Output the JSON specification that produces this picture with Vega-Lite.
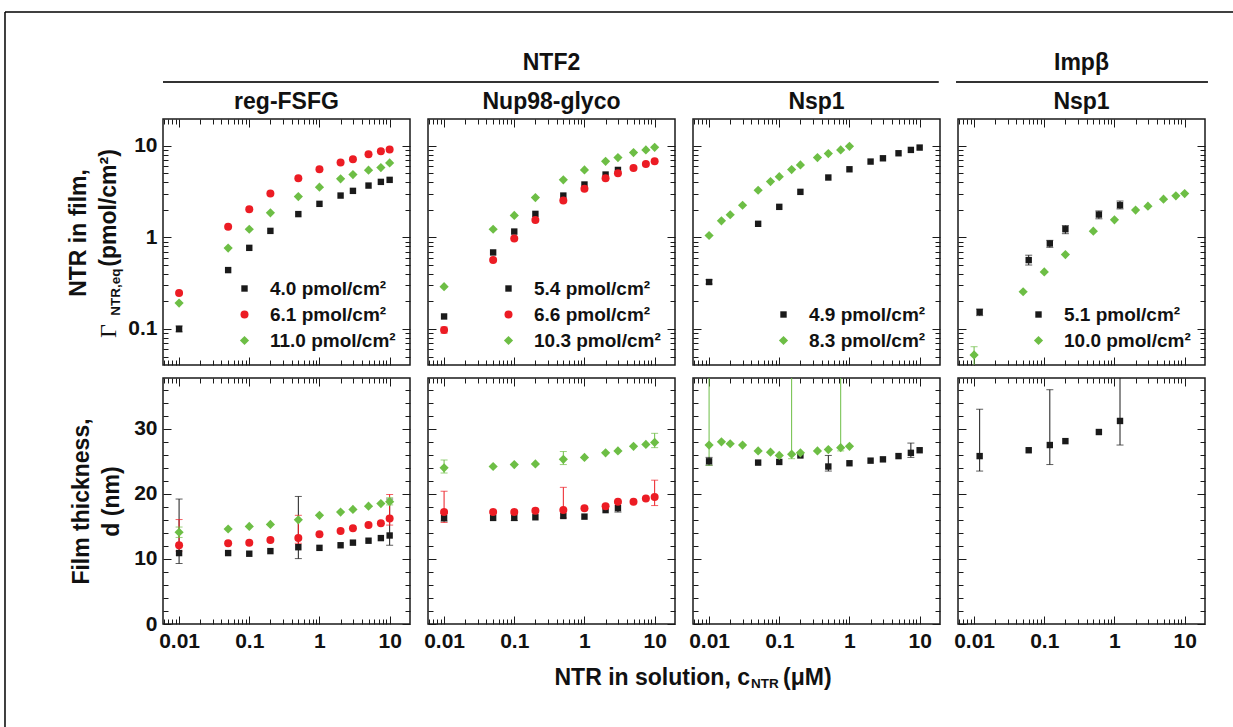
{
"$schema":"https://vega.github.io/schema/vega-lite/v6.json",
"background":"white",
"padding":{"left":4,"top":11,"right":5,"bottom":5},
"columns":4,
"bounds":"flush",
"spacing":{"row":13,"column":18},
"resolve":{"scale":{"color":"independent","shape":"independent"},"legend":{"color":"independent","shape":"independent"}},
"config":{
 "font":"Liberation Sans",
 "view":{"stroke":"#1a1a1a","strokeWidth":1.5},
 "axis":{"domain":false,"grid":false,"tickColor":"#1a1a1a","tickWidth":1,"labelFont":"Liberation Sans","labelFontSize":21,"labelFontWeight":"bold","labelColor":"#111","labelFlush":false,"labelOverlap":false,"labelBound":false,"titleFont":"Liberation Sans","titleFontSize":23,"titleFontWeight":"bold","titleColor":"#111"},
 "title":{"font":"Liberation Sans","fontSize":23,"fontWeight":"bold","color":"#111","offset":5,"anchor":"middle"},
 "legend":{"orient":"bottom-right","offset":14,"labelFont":"Liberation Sans","labelFontSize":19,"labelFontWeight":"bold","labelColor":"#111","symbolSize":64,"rowPadding":6,"labelOffset":16,"padding":0,"symbolStrokeWidth":0}
},
"datasets":{"d":[
{"p":1,"r":"t","s":"4.0","x":0.01,"y":0.1,"lo":0.093,"hi":0.108},
{"p":1,"r":"t","s":"4.0","x":0.05,"y":0.44},
{"p":1,"r":"t","s":"4.0","x":0.1,"y":0.77},
{"p":1,"r":"t","s":"4.0","x":0.2,"y":1.18},
{"p":1,"r":"t","s":"4.0","x":0.5,"y":1.8},
{"p":1,"r":"t","s":"4.0","x":1,"y":2.33},
{"p":1,"r":"t","s":"4.0","x":2,"y":2.87},
{"p":1,"r":"t","s":"4.0","x":3,"y":3.23},
{"p":1,"r":"t","s":"4.0","x":5,"y":3.69},
{"p":1,"r":"t","s":"4.0","x":7.5,"y":4.05},
{"p":1,"r":"t","s":"4.0","x":10,"y":4.26},
{"p":1,"r":"t","s":"6.1","x":0.01,"y":0.247},
{"p":1,"r":"t","s":"6.1","x":0.05,"y":1.31},
{"p":1,"r":"t","s":"6.1","x":0.1,"y":2.04},
{"p":1,"r":"t","s":"6.1","x":0.2,"y":3.02},
{"p":1,"r":"t","s":"6.1","x":0.5,"y":4.44},
{"p":1,"r":"t","s":"6.1","x":1,"y":5.56},
{"p":1,"r":"t","s":"6.1","x":2,"y":6.58},
{"p":1,"r":"t","s":"6.1","x":3,"y":7.16},
{"p":1,"r":"t","s":"6.1","x":5,"y":8.11},
{"p":1,"r":"t","s":"6.1","x":7.5,"y":8.75},
{"p":1,"r":"t","s":"6.1","x":10,"y":9.12},
{"p":1,"r":"t","s":"11.0","x":0.01,"y":0.192},
{"p":1,"r":"t","s":"11.0","x":0.05,"y":0.765},
{"p":1,"r":"t","s":"11.0","x":0.1,"y":1.23},
{"p":1,"r":"t","s":"11.0","x":0.2,"y":1.86},
{"p":1,"r":"t","s":"11.0","x":0.5,"y":2.8},
{"p":1,"r":"t","s":"11.0","x":1,"y":3.54},
{"p":1,"r":"t","s":"11.0","x":2,"y":4.37},
{"p":1,"r":"t","s":"11.0","x":3,"y":4.87},
{"p":1,"r":"t","s":"11.0","x":5,"y":5.43},
{"p":1,"r":"t","s":"11.0","x":7.5,"y":5.8},
{"p":1,"r":"t","s":"11.0","x":10,"y":6.53},
{"p":1,"r":"b","s":"4.0","x":0.01,"y":10.9,"lo":9.3,"hi":19.2},
{"p":1,"r":"b","s":"4.0","x":0.05,"y":10.9},
{"p":1,"r":"b","s":"4.0","x":0.1,"y":10.8},
{"p":1,"r":"b","s":"4.0","x":0.2,"y":11.2},
{"p":1,"r":"b","s":"4.0","x":0.5,"y":11.8,"lo":10.05,"hi":19.6},
{"p":1,"r":"b","s":"4.0","x":1,"y":11.7},
{"p":1,"r":"b","s":"4.0","x":2,"y":12.1},
{"p":1,"r":"b","s":"4.0","x":3,"y":12.5},
{"p":1,"r":"b","s":"4.0","x":5,"y":12.8},
{"p":1,"r":"b","s":"4.0","x":7.5,"y":13.2},
{"p":1,"r":"b","s":"4.0","x":10,"y":13.6,"lo":12.1,"hi":19.2},
{"p":1,"r":"b","s":"6.1","x":0.01,"y":12.1,"lo":11.2,"hi":16.05},
{"p":1,"r":"b","s":"6.1","x":0.05,"y":12.4},
{"p":1,"r":"b","s":"6.1","x":0.1,"y":12.5},
{"p":1,"r":"b","s":"6.1","x":0.2,"y":12.9},
{"p":1,"r":"b","s":"6.1","x":0.5,"y":13.2,"lo":12.4,"hi":16.7},
{"p":1,"r":"b","s":"6.1","x":1,"y":13.8},
{"p":1,"r":"b","s":"6.1","x":2,"y":14.3},
{"p":1,"r":"b","s":"6.1","x":3,"y":14.7},
{"p":1,"r":"b","s":"6.1","x":5,"y":15.2},
{"p":1,"r":"b","s":"6.1","x":7.5,"y":15.5},
{"p":1,"r":"b","s":"6.1","x":10,"y":16.2,"lo":15.2,"hi":19.9},
{"p":1,"r":"b","s":"11.0","x":0.01,"y":14.1,"lo":13.3,"hi":14.9},
{"p":1,"r":"b","s":"11.0","x":0.05,"y":14.6},
{"p":1,"r":"b","s":"11.0","x":0.1,"y":15.0},
{"p":1,"r":"b","s":"11.0","x":0.2,"y":15.3},
{"p":1,"r":"b","s":"11.0","x":0.5,"y":16.0},
{"p":1,"r":"b","s":"11.0","x":1,"y":16.7},
{"p":1,"r":"b","s":"11.0","x":2,"y":17.2},
{"p":1,"r":"b","s":"11.0","x":3,"y":17.6},
{"p":1,"r":"b","s":"11.0","x":5,"y":18.1},
{"p":1,"r":"b","s":"11.0","x":7.5,"y":18.5},
{"p":1,"r":"b","s":"11.0","x":10,"y":18.8,"lo":18.3,"hi":19.4},
{"p":2,"r":"t","s":"5.4","x":0.01,"y":0.137},
{"p":2,"r":"t","s":"5.4","x":0.05,"y":0.686},
{"p":2,"r":"t","s":"5.4","x":0.1,"y":1.16},
{"p":2,"r":"t","s":"5.4","x":0.2,"y":1.81},
{"p":2,"r":"t","s":"5.4","x":0.5,"y":2.87},
{"p":2,"r":"t","s":"5.4","x":1,"y":3.79},
{"p":2,"r":"t","s":"5.4","x":2,"y":4.87},
{"p":2,"r":"t","s":"5.4","x":3,"y":5.47},
{"p":2,"r":"t","s":"6.6","x":0.01,"y":0.0975,"lo":0.09,"hi":0.105},
{"p":2,"r":"t","s":"6.6","x":0.05,"y":0.566},
{"p":2,"r":"t","s":"6.6","x":0.1,"y":0.975},
{"p":2,"r":"t","s":"6.6","x":0.2,"y":1.55},
{"p":2,"r":"t","s":"6.6","x":0.5,"y":2.54},
{"p":2,"r":"t","s":"6.6","x":1,"y":3.4},
{"p":2,"r":"t","s":"6.6","x":2,"y":4.44},
{"p":2,"r":"t","s":"6.6","x":3,"y":5.03},
{"p":2,"r":"t","s":"6.6","x":5,"y":5.75},
{"p":2,"r":"t","s":"6.6","x":7.5,"y":6.36},
{"p":2,"r":"t","s":"6.6","x":10,"y":6.8},
{"p":2,"r":"t","s":"10.3","x":0.01,"y":0.29},
{"p":2,"r":"t","s":"10.3","x":0.05,"y":1.23},
{"p":2,"r":"t","s":"10.3","x":0.1,"y":1.74},
{"p":2,"r":"t","s":"10.3","x":0.2,"y":2.73},
{"p":2,"r":"t","s":"10.3","x":0.5,"y":4.26},
{"p":2,"r":"t","s":"10.3","x":1,"y":5.47},
{"p":2,"r":"t","s":"10.3","x":2,"y":6.8},
{"p":2,"r":"t","s":"10.3","x":3,"y":7.46},
{"p":2,"r":"t","s":"10.3","x":5,"y":8.46},
{"p":2,"r":"t","s":"10.3","x":7.5,"y":9.05},
{"p":2,"r":"t","s":"10.3","x":10,"y":9.67},
{"p":2,"r":"b","s":"5.4","x":0.01,"y":16.3,"lo":15.8,"hi":17.0},
{"p":2,"r":"b","s":"5.4","x":0.05,"y":16.3},
{"p":2,"r":"b","s":"5.4","x":0.1,"y":16.3,"lo":15.9,"hi":16.9},
{"p":2,"r":"b","s":"5.4","x":0.2,"y":16.4},
{"p":2,"r":"b","s":"5.4","x":0.5,"y":16.6},
{"p":2,"r":"b","s":"5.4","x":1,"y":16.5},
{"p":2,"r":"b","s":"5.4","x":2,"y":17.5},
{"p":2,"r":"b","s":"5.4","x":3,"y":17.8,"lo":17.2,"hi":18.6},
{"p":2,"r":"b","s":"6.6","x":0.01,"y":17.2,"lo":15.6,"hi":20.4},
{"p":2,"r":"b","s":"6.6","x":0.05,"y":17.2},
{"p":2,"r":"b","s":"6.6","x":0.1,"y":17.2},
{"p":2,"r":"b","s":"6.6","x":0.2,"y":17.4},
{"p":2,"r":"b","s":"6.6","x":0.5,"y":17.5,"lo":16.3,"hi":21.0},
{"p":2,"r":"b","s":"6.6","x":1,"y":17.8},
{"p":2,"r":"b","s":"6.6","x":2,"y":18.1},
{"p":2,"r":"b","s":"6.6","x":3,"y":18.8},
{"p":2,"r":"b","s":"6.6","x":5,"y":18.8},
{"p":2,"r":"b","s":"6.6","x":7.5,"y":19.3},
{"p":2,"r":"b","s":"6.6","x":10,"y":19.5,"lo":18.2,"hi":22.1},
{"p":2,"r":"b","s":"10.3","x":0.01,"y":24.0,"lo":23.2,"hi":25.2},
{"p":2,"r":"b","s":"10.3","x":0.05,"y":24.2},
{"p":2,"r":"b","s":"10.3","x":0.1,"y":24.5},
{"p":2,"r":"b","s":"10.3","x":0.2,"y":24.6},
{"p":2,"r":"b","s":"10.3","x":0.5,"y":25.3,"lo":24.5,"hi":26.5},
{"p":2,"r":"b","s":"10.3","x":1,"y":25.6},
{"p":2,"r":"b","s":"10.3","x":2,"y":26.3},
{"p":2,"r":"b","s":"10.3","x":3,"y":26.6},
{"p":2,"r":"b","s":"10.3","x":5,"y":27.3},
{"p":2,"r":"b","s":"10.3","x":7.5,"y":27.6},
{"p":2,"r":"b","s":"10.3","x":10,"y":27.9,"lo":27.1,"hi":29.3},
{"p":3,"r":"t","s":"4.9","x":0.01,"y":0.326,"lo":0.31,"hi":0.345},
{"p":3,"r":"t","s":"4.9","x":0.05,"y":1.41},
{"p":3,"r":"t","s":"4.9","x":0.1,"y":2.16},
{"p":3,"r":"t","s":"4.9","x":0.2,"y":3.15},
{"p":3,"r":"t","s":"4.9","x":0.5,"y":4.52},
{"p":3,"r":"t","s":"4.9","x":1,"y":5.56},
{"p":3,"r":"t","s":"4.9","x":2,"y":6.75},
{"p":3,"r":"t","s":"4.9","x":3,"y":7.33},
{"p":3,"r":"t","s":"4.9","x":5,"y":8.32},
{"p":3,"r":"t","s":"4.9","x":7.5,"y":9.05},
{"p":3,"r":"t","s":"4.9","x":10,"y":9.6},
{"p":3,"r":"t","s":"8.3","x":0.01,"y":1.05},
{"p":3,"r":"t","s":"8.3","x":0.015,"y":1.52},
{"p":3,"r":"t","s":"8.3","x":0.02,"y":1.77},
{"p":3,"r":"t","s":"8.3","x":0.03,"y":2.25},
{"p":3,"r":"t","s":"8.3","x":0.05,"y":3.28},
{"p":3,"r":"t","s":"8.3","x":0.075,"y":4.08},
{"p":3,"r":"t","s":"8.3","x":0.1,"y":4.62},
{"p":3,"r":"t","s":"8.3","x":0.15,"y":5.52},
{"p":3,"r":"t","s":"8.3","x":0.2,"y":6.21},
{"p":3,"r":"t","s":"8.3","x":0.35,"y":7.46},
{"p":3,"r":"t","s":"8.3","x":0.5,"y":8.25},
{"p":3,"r":"t","s":"8.3","x":0.75,"y":9.05},
{"p":3,"r":"t","s":"8.3","x":1,"y":9.9},
{"p":3,"r":"b","s":"4.9","x":0.01,"y":25.0,"lo":24.4,"hi":25.6},
{"p":3,"r":"b","s":"4.9","x":0.05,"y":24.8},
{"p":3,"r":"b","s":"4.9","x":0.1,"y":24.9},
{"p":3,"r":"b","s":"4.9","x":0.2,"y":25.9},
{"p":3,"r":"b","s":"4.9","x":0.5,"y":24.2,"lo":23.5,"hi":25.9},
{"p":3,"r":"b","s":"4.9","x":1,"y":24.7},
{"p":3,"r":"b","s":"4.9","x":2,"y":25.1},
{"p":3,"r":"b","s":"4.9","x":3,"y":25.3},
{"p":3,"r":"b","s":"4.9","x":5,"y":25.8},
{"p":3,"r":"b","s":"4.9","x":7.5,"y":26.3,"lo":25.6,"hi":27.8},
{"p":3,"r":"b","s":"4.9","x":10,"y":26.7},
{"p":3,"r":"b","s":"8.3","x":0.01,"y":27.5,"lo":24.4,"hi":60},
{"p":3,"r":"b","s":"8.3","x":0.015,"y":28.0},
{"p":3,"r":"b","s":"8.3","x":0.02,"y":27.7},
{"p":3,"r":"b","s":"8.3","x":0.03,"y":27.5},
{"p":3,"r":"b","s":"8.3","x":0.05,"y":26.6},
{"p":3,"r":"b","s":"8.3","x":0.075,"y":26.4},
{"p":3,"r":"b","s":"8.3","x":0.1,"y":25.9},
{"p":3,"r":"b","s":"8.3","x":0.15,"y":26.1,"lo":25.4,"hi":60},
{"p":3,"r":"b","s":"8.3","x":0.2,"y":26.3},
{"p":3,"r":"b","s":"8.3","x":0.35,"y":26.6},
{"p":3,"r":"b","s":"8.3","x":0.5,"y":26.8},
{"p":3,"r":"b","s":"8.3","x":0.75,"y":27.1,"lo":26.6,"hi":60},
{"p":3,"r":"b","s":"8.3","x":1,"y":27.3},
{"p":4,"r":"t","s":"5.1","x":0.012,"y":0.153,"lo":0.14,"hi":0.165},
{"p":4,"r":"t","s":"5.1","x":0.06,"y":0.566,"lo":0.5,"hi":0.64},
{"p":4,"r":"t","s":"5.1","x":0.12,"y":0.86,"lo":0.78,"hi":0.93},
{"p":4,"r":"t","s":"5.1","x":0.2,"y":1.23,"lo":1.1,"hi":1.35},
{"p":4,"r":"t","s":"5.1","x":0.6,"y":1.78,"lo":1.6,"hi":1.95},
{"p":4,"r":"t","s":"5.1","x":1.2,"y":2.25,"lo":2.05,"hi":2.5},
{"p":4,"r":"t","s":"10.0","x":0.01,"y":0.052,"lo":0.038,"hi":0.064},
{"p":4,"r":"t","s":"10.0","x":0.05,"y":0.255},
{"p":4,"r":"t","s":"10.0","x":0.1,"y":0.42},
{"p":4,"r":"t","s":"10.0","x":0.2,"y":0.65},
{"p":4,"r":"t","s":"10.0","x":0.5,"y":1.17},
{"p":4,"r":"t","s":"10.0","x":1,"y":1.56},
{"p":4,"r":"t","s":"10.0","x":2,"y":1.99},
{"p":4,"r":"t","s":"10.0","x":3,"y":2.2},
{"p":4,"r":"t","s":"10.0","x":5,"y":2.62},
{"p":4,"r":"t","s":"10.0","x":7.5,"y":2.85},
{"p":4,"r":"t","s":"10.0","x":10,"y":3.02},
{"p":4,"r":"b","s":"5.1","x":0.012,"y":25.8,"lo":23.5,"hi":33},
{"p":4,"r":"b","s":"5.1","x":0.06,"y":26.7},
{"p":4,"r":"b","s":"5.1","x":0.12,"y":27.5,"lo":24.5,"hi":36},
{"p":4,"r":"b","s":"5.1","x":0.2,"y":28.1},
{"p":4,"r":"b","s":"5.1","x":0.6,"y":29.5},
{"p":4,"r":"b","s":"5.1","x":1.2,"y":31.2,"lo":27.5,"hi":60}
]},
"concat":[
{"width":247,"height":24,"view":{"stroke":null},"data":{"values":[{}]},
 "layer":[
  {"mark":{"type":"rule","color":"#333","strokeWidth":2},
   "encoding":{"x":{"datum":0,"type":"quantitative","scale":{"domain":[0,1]},"axis":null},"x2":{"datum":1.0729},"y":{"datum":1,"type":"quantitative","scale":{"domain":[0,1]},"axis":null}}},
  {"mark":{"type":"rule","color":"#000","strokeWidth":1.5},
   "encoding":{"x":{"datum":-0.6397,"type":"quantitative","axis":null},"y":{"datum":3.9167,"type":"quantitative","axis":null},"y2":{"datum":-30}}},
  {"mark":{"type":"rule","color":"#000","strokeWidth":1.5},
   "encoding":{"x":{"datum":-0.6397,"type":"quantitative","axis":null},"x2":{"datum":4.5},"y":{"datum":3.9167,"type":"quantitative","axis":null}}}
 ]},
{"width":247,"height":24,"view":{"stroke":null},"data":{"values":[{}]},"title":{"text":"NTF2","offset":6},
 "mark":{"type":"rule","color":"#333","strokeWidth":2},
 "encoding":{"x":{"datum":0,"type":"quantitative","scale":{"domain":[0,1]},"axis":null},"x2":{"datum":1.0729},"y":{"datum":1,"type":"quantitative","scale":{"domain":[0,1]},"axis":null}}},
{"width":247,"height":24,"view":{"stroke":null},"data":{"values":[{}]},
 "mark":{"type":"rule","color":"#333","strokeWidth":2},
 "encoding":{"x":{"datum":0,"type":"quantitative","scale":{"domain":[0,1]},"axis":null},"x2":{"datum":0.995},"y":{"datum":1,"type":"quantitative","scale":{"domain":[0,1]},"axis":null}}},
{"width":247,"height":24,"view":{"stroke":null},"data":{"values":[{}]},"title":{"text":"Impβ","offset":6},
 "mark":{"type":"rule","color":"#333","strokeWidth":2},
 "encoding":{"x":{"datum":-0.008,"type":"quantitative","scale":{"domain":[0,1]},"axis":null},"x2":{"datum":1.012},"y":{"datum":1,"type":"quantitative","scale":{"domain":[0,1]},"axis":null}}},

{"width":247,"height":246,"title":{"text":"reg-FSFG"},"data":{"name":"d"},
 "resolve":{"axis":{"x":"independent","y":"independent"}},
 "layer":[
  {"transform":[{"filter":"datum.p===1 && datum.r==='t'"}],"mark":{"type":"point","filled":true,"opacity":1,"size":64},
   "encoding":{"x":{"field":"x","type":"quantitative","scale":{"type":"log","domain":[0.0059,19.5],"nice":false},"axis":{"orient":"bottom","values":[0.006,0.007,0.008,0.009,0.01,0.02,0.03,0.04,0.05,0.06,0.07,0.08,0.09,0.1,0.2,0.3,0.4,0.5,0.6,0.7,0.8,0.9,1,2,3,4,5,6,7,8,9,10],"tickSize":{"condition":{"test":"datum.value % 10 === 0 || abs(log(datum.value)/LN10 - round(log(datum.value)/LN10)) < 0.000001","value":-8},"value":-5},"labels":false,"title":null}},
    "y":{"field":"y","type":"quantitative","scale":{"type":"log","domain":[0.0404,19.7],"nice":false},"axis":{"orient":"left","values":[0.05,0.06,0.07,0.08,0.09,0.1,0.2,0.3,0.4,0.5,0.6,0.7,0.8,0.9,1,2,3,4,5,6,7,8,9,10],"tickSize":{"condition":{"test":"datum.value % 10 === 0 || abs(log(datum.value)/LN10 - round(log(datum.value)/LN10)) < 0.000001","value":-8},"value":-5},"labelExpr":"abs(log(datum.value)/LN10 - round(log(datum.value)/LN10)) < 0.000001 ? format(datum.value, '~g') : ''","labelPadding":14,"title":null}},
    "color":{"field":"s","type":"nominal","scale":{"domain":["4.0","6.1","11.0"],"range":["#1a1a1a","#ec1c24","#6dbe45"]},"legend":{"title":null,"labelExpr":"datum.label + ' pmol/cm²'"}},
    "shape":{"field":"s","type":"nominal","scale":{"domain":["4.0","6.1","11.0"],"range":["M-0.8,-0.8H0.8V0.8H-0.8Z","circle","M-1.15,0L0,-1.15L1.15,0L0,1.15Z"]},"legend":{"title":null,"labelExpr":"datum.label + ' pmol/cm²'"}}}},
  {"transform":[{"filter":"datum.p===1 && datum.r==='t'"}],"mark":{"type":"point","opacity":0},
   "encoding":{"x":{"field":"x","type":"quantitative","axis":{"orient":"top","values":[0.006,0.007,0.008,0.009,0.01,0.02,0.03,0.04,0.05,0.06,0.07,0.08,0.09,0.1,0.2,0.3,0.4,0.5,0.6,0.7,0.8,0.9,1,2,3,4,5,6,7,8,9,10],"tickSize":{"condition":{"test":"datum.value % 10 === 0 || abs(log(datum.value)/LN10 - round(log(datum.value)/LN10)) < 0.000001","value":-8},"value":-5},"labels":false,"title":null}},
    "y":{"field":"y","type":"quantitative","axis":{"orient":"right","values":[0.05,0.06,0.07,0.08,0.09,0.1,0.2,0.3,0.4,0.5,0.6,0.7,0.8,0.9,1,2,3,4,5,6,7,8,9,10],"tickSize":{"condition":{"test":"datum.value % 10 === 0 || abs(log(datum.value)/LN10 - round(log(datum.value)/LN10)) < 0.000001","value":-8},"value":-5},"labels":false,"title":null}}}},
  {"transform":[{"filter":"datum.p===1 && datum.r==='t' && isValid(datum.lo)"}],"mark":{"type":"rule","clip":true,"strokeWidth":1},
   "encoding":{"x":{"field":"x","type":"quantitative","axis":null},"y":{"field":"lo","type":"quantitative","axis":null},"y2":{"field":"hi"},"color":{"field":"s","type":"nominal","legend":null}}},
  {"transform":[{"filter":"datum.p===1 && datum.r==='t' && isValid(datum.lo)"}],"mark":{"type":"tick","orient":"horizontal","clip":true,"size":7,"thickness":1},
   "encoding":{"x":{"field":"x","type":"quantitative","axis":null},"y":{"field":"lo","type":"quantitative","axis":null},"color":{"field":"s","type":"nominal","legend":null}}},
  {"transform":[{"filter":"datum.p===1 && datum.r==='t' && isValid(datum.hi)"}],"mark":{"type":"tick","orient":"horizontal","clip":true,"size":7,"thickness":1},
   "encoding":{"x":{"field":"x","type":"quantitative","axis":null},"y":{"field":"hi","type":"quantitative","axis":null},"color":{"field":"s","type":"nominal","legend":null}}},
  {"data":{"values":[{}]},"mark":{"type":"text","text":"NTR in film,","angle":270,"fontSize":23,"fontWeight":"bold","align":"center","baseline":"middle","color":"#111"},
   "encoding":{"x":{"datum":0.000375,"type":"quantitative","axis":null},"y":{"datum":1.12,"type":"quantitative","axis":null}}},
  {"data":{"values":[{}]},"mark":{"type":"text","text":"Γ","angle":270,"fontSize":24,"font":"Liberation Serif","align":"center","baseline":"middle","color":"#111"},
   "encoding":{"x":{"datum":0.001004,"type":"quantitative","axis":null},"y":{"datum":0.095,"type":"quantitative","axis":null}}},
  {"data":{"values":[{}]},"mark":{"type":"text","text":"NTR,eq","angle":270,"fontSize":13.5,"fontWeight":"bold","align":"center","baseline":"middle","color":"#111"},
   "encoding":{"x":{"datum":0.001263,"type":"quantitative","axis":null},"y":{"datum":0.2535,"type":"quantitative","axis":null}}},
  {"data":{"values":[{}]},"mark":{"type":"text","text":"(pmol/cm²)","angle":270,"fontSize":23,"fontWeight":"bold","align":"center","baseline":"middle","color":"#111"},
   "encoding":{"x":{"datum":0.001004,"type":"quantitative","axis":null},"y":{"datum":2.1,"type":"quantitative","axis":null}}}
 ]},

{"width":247,"height":246,"title":{"text":"Nup98-glyco"},"data":{"name":"d"},
 "resolve":{"axis":{"x":"independent","y":"independent"}},
 "layer":[
  {"transform":[{"filter":"datum.p===2 && datum.r==='t'"}],"mark":{"type":"point","filled":true,"opacity":1,"size":64},
   "encoding":{"x":{"field":"x","type":"quantitative","scale":{"type":"log","domain":[0.0059,19.5],"nice":false},"axis":{"orient":"bottom","values":[0.006,0.007,0.008,0.009,0.01,0.02,0.03,0.04,0.05,0.06,0.07,0.08,0.09,0.1,0.2,0.3,0.4,0.5,0.6,0.7,0.8,0.9,1,2,3,4,5,6,7,8,9,10],"tickSize":{"condition":{"test":"datum.value % 10 === 0 || abs(log(datum.value)/LN10 - round(log(datum.value)/LN10)) < 0.000001","value":-8},"value":-5},"labels":false,"title":null}},
    "y":{"field":"y","type":"quantitative","scale":{"type":"log","domain":[0.0404,19.7],"nice":false},"axis":{"orient":"left","values":[0.05,0.06,0.07,0.08,0.09,0.1,0.2,0.3,0.4,0.5,0.6,0.7,0.8,0.9,1,2,3,4,5,6,7,8,9,10],"tickSize":{"condition":{"test":"datum.value % 10 === 0 || abs(log(datum.value)/LN10 - round(log(datum.value)/LN10)) < 0.000001","value":-8},"value":-5},"labels":false,"title":null}},
    "color":{"field":"s","type":"nominal","scale":{"domain":["5.4","6.6","10.3"],"range":["#1a1a1a","#ec1c24","#6dbe45"]},"legend":{"title":null,"labelExpr":"datum.label + ' pmol/cm²'"}},
    "shape":{"field":"s","type":"nominal","scale":{"domain":["5.4","6.6","10.3"],"range":["M-0.8,-0.8H0.8V0.8H-0.8Z","circle","M-1.15,0L0,-1.15L1.15,0L0,1.15Z"]},"legend":{"title":null,"labelExpr":"datum.label + ' pmol/cm²'"}}}},
  {"transform":[{"filter":"datum.p===2 && datum.r==='t'"}],"mark":{"type":"point","opacity":0},
   "encoding":{"x":{"field":"x","type":"quantitative","axis":{"orient":"top","values":[0.006,0.007,0.008,0.009,0.01,0.02,0.03,0.04,0.05,0.06,0.07,0.08,0.09,0.1,0.2,0.3,0.4,0.5,0.6,0.7,0.8,0.9,1,2,3,4,5,6,7,8,9,10],"tickSize":{"condition":{"test":"datum.value % 10 === 0 || abs(log(datum.value)/LN10 - round(log(datum.value)/LN10)) < 0.000001","value":-8},"value":-5},"labels":false,"title":null}},
    "y":{"field":"y","type":"quantitative","axis":{"orient":"right","values":[0.05,0.06,0.07,0.08,0.09,0.1,0.2,0.3,0.4,0.5,0.6,0.7,0.8,0.9,1,2,3,4,5,6,7,8,9,10],"tickSize":{"condition":{"test":"datum.value % 10 === 0 || abs(log(datum.value)/LN10 - round(log(datum.value)/LN10)) < 0.000001","value":-8},"value":-5},"labels":false,"title":null}}}},
  {"transform":[{"filter":"datum.p===2 && datum.r==='t' && isValid(datum.lo)"}],"mark":{"type":"rule","clip":true,"strokeWidth":1},
   "encoding":{"x":{"field":"x","type":"quantitative","axis":null},"y":{"field":"lo","type":"quantitative","axis":null},"y2":{"field":"hi"},"color":{"field":"s","type":"nominal","legend":null}}},
  {"transform":[{"filter":"datum.p===2 && datum.r==='t' && isValid(datum.lo)"}],"mark":{"type":"tick","orient":"horizontal","clip":true,"size":7,"thickness":1},
   "encoding":{"x":{"field":"x","type":"quantitative","axis":null},"y":{"field":"lo","type":"quantitative","axis":null},"color":{"field":"s","type":"nominal","legend":null}}},
  {"transform":[{"filter":"datum.p===2 && datum.r==='t' && isValid(datum.hi)"}],"mark":{"type":"tick","orient":"horizontal","clip":true,"size":7,"thickness":1},
   "encoding":{"x":{"field":"x","type":"quantitative","axis":null},"y":{"field":"hi","type":"quantitative","axis":null},"color":{"field":"s","type":"nominal","legend":null}}}
 ]},

{"width":247,"height":246,"title":{"text":"Nsp1"},"data":{"name":"d"},
 "resolve":{"axis":{"x":"independent","y":"independent"}},
 "layer":[
  {"transform":[{"filter":"datum.p===3 && datum.r==='t'"}],"mark":{"type":"point","filled":true,"opacity":1,"size":64},
   "encoding":{"x":{"field":"x","type":"quantitative","scale":{"type":"log","domain":[0.0059,19.5],"nice":false},"axis":{"orient":"bottom","values":[0.006,0.007,0.008,0.009,0.01,0.02,0.03,0.04,0.05,0.06,0.07,0.08,0.09,0.1,0.2,0.3,0.4,0.5,0.6,0.7,0.8,0.9,1,2,3,4,5,6,7,8,9,10],"tickSize":{"condition":{"test":"datum.value % 10 === 0 || abs(log(datum.value)/LN10 - round(log(datum.value)/LN10)) < 0.000001","value":-8},"value":-5},"labels":false,"title":null}},
    "y":{"field":"y","type":"quantitative","scale":{"type":"log","domain":[0.0404,19.7],"nice":false},"axis":{"orient":"left","values":[0.05,0.06,0.07,0.08,0.09,0.1,0.2,0.3,0.4,0.5,0.6,0.7,0.8,0.9,1,2,3,4,5,6,7,8,9,10],"tickSize":{"condition":{"test":"datum.value % 10 === 0 || abs(log(datum.value)/LN10 - round(log(datum.value)/LN10)) < 0.000001","value":-8},"value":-5},"labels":false,"title":null}},
    "color":{"field":"s","type":"nominal","scale":{"domain":["4.9","8.3"],"range":["#1a1a1a","#6dbe45"]},"legend":{"title":null,"labelExpr":"datum.label + ' pmol/cm²'"}},
    "shape":{"field":"s","type":"nominal","scale":{"domain":["4.9","8.3"],"range":["M-0.8,-0.8H0.8V0.8H-0.8Z","M-1.15,0L0,-1.15L1.15,0L0,1.15Z"]},"legend":{"title":null,"labelExpr":"datum.label + ' pmol/cm²'"}}}},
  {"transform":[{"filter":"datum.p===3 && datum.r==='t'"}],"mark":{"type":"point","opacity":0},
   "encoding":{"x":{"field":"x","type":"quantitative","axis":{"orient":"top","values":[0.006,0.007,0.008,0.009,0.01,0.02,0.03,0.04,0.05,0.06,0.07,0.08,0.09,0.1,0.2,0.3,0.4,0.5,0.6,0.7,0.8,0.9,1,2,3,4,5,6,7,8,9,10],"tickSize":{"condition":{"test":"datum.value % 10 === 0 || abs(log(datum.value)/LN10 - round(log(datum.value)/LN10)) < 0.000001","value":-8},"value":-5},"labels":false,"title":null}},
    "y":{"field":"y","type":"quantitative","axis":{"orient":"right","values":[0.05,0.06,0.07,0.08,0.09,0.1,0.2,0.3,0.4,0.5,0.6,0.7,0.8,0.9,1,2,3,4,5,6,7,8,9,10],"tickSize":{"condition":{"test":"datum.value % 10 === 0 || abs(log(datum.value)/LN10 - round(log(datum.value)/LN10)) < 0.000001","value":-8},"value":-5},"labels":false,"title":null}}}},
  {"transform":[{"filter":"datum.p===3 && datum.r==='t' && isValid(datum.lo)"}],"mark":{"type":"rule","clip":true,"strokeWidth":1},
   "encoding":{"x":{"field":"x","type":"quantitative","axis":null},"y":{"field":"lo","type":"quantitative","axis":null},"y2":{"field":"hi"},"color":{"field":"s","type":"nominal","legend":null}}},
  {"transform":[{"filter":"datum.p===3 && datum.r==='t' && isValid(datum.lo)"}],"mark":{"type":"tick","orient":"horizontal","clip":true,"size":7,"thickness":1},
   "encoding":{"x":{"field":"x","type":"quantitative","axis":null},"y":{"field":"lo","type":"quantitative","axis":null},"color":{"field":"s","type":"nominal","legend":null}}},
  {"transform":[{"filter":"datum.p===3 && datum.r==='t' && isValid(datum.hi)"}],"mark":{"type":"tick","orient":"horizontal","clip":true,"size":7,"thickness":1},
   "encoding":{"x":{"field":"x","type":"quantitative","axis":null},"y":{"field":"hi","type":"quantitative","axis":null},"color":{"field":"s","type":"nominal","legend":null}}}
 ]},

{"width":247,"height":246,"title":{"text":"Nsp1"},"data":{"name":"d"},
 "resolve":{"axis":{"x":"independent","y":"independent"}},
 "layer":[
  {"transform":[{"filter":"datum.p===4 && datum.r==='t'"}],"mark":{"type":"point","filled":true,"opacity":1,"size":64},
   "encoding":{"x":{"field":"x","type":"quantitative","scale":{"type":"log","domain":[0.0059,19.5],"nice":false},"axis":{"orient":"bottom","values":[0.006,0.007,0.008,0.009,0.01,0.02,0.03,0.04,0.05,0.06,0.07,0.08,0.09,0.1,0.2,0.3,0.4,0.5,0.6,0.7,0.8,0.9,1,2,3,4,5,6,7,8,9,10],"tickSize":{"condition":{"test":"datum.value % 10 === 0 || abs(log(datum.value)/LN10 - round(log(datum.value)/LN10)) < 0.000001","value":-8},"value":-5},"labels":false,"title":null}},
    "y":{"field":"y","type":"quantitative","scale":{"type":"log","domain":[0.0404,19.7],"nice":false},"axis":{"orient":"left","values":[0.05,0.06,0.07,0.08,0.09,0.1,0.2,0.3,0.4,0.5,0.6,0.7,0.8,0.9,1,2,3,4,5,6,7,8,9,10],"tickSize":{"condition":{"test":"datum.value % 10 === 0 || abs(log(datum.value)/LN10 - round(log(datum.value)/LN10)) < 0.000001","value":-8},"value":-5},"labels":false,"title":null}},
    "color":{"field":"s","type":"nominal","scale":{"domain":["5.1","10.0"],"range":["#1a1a1a","#6dbe45"]},"legend":{"title":null,"labelExpr":"datum.label + ' pmol/cm²'"}},
    "shape":{"field":"s","type":"nominal","scale":{"domain":["5.1","10.0"],"range":["M-0.8,-0.8H0.8V0.8H-0.8Z","M-1.15,0L0,-1.15L1.15,0L0,1.15Z"]},"legend":{"title":null,"labelExpr":"datum.label + ' pmol/cm²'"}}}},
  {"transform":[{"filter":"datum.p===4 && datum.r==='t'"}],"mark":{"type":"point","opacity":0},
   "encoding":{"x":{"field":"x","type":"quantitative","axis":{"orient":"top","values":[0.006,0.007,0.008,0.009,0.01,0.02,0.03,0.04,0.05,0.06,0.07,0.08,0.09,0.1,0.2,0.3,0.4,0.5,0.6,0.7,0.8,0.9,1,2,3,4,5,6,7,8,9,10],"tickSize":{"condition":{"test":"datum.value % 10 === 0 || abs(log(datum.value)/LN10 - round(log(datum.value)/LN10)) < 0.000001","value":-8},"value":-5},"labels":false,"title":null}},
    "y":{"field":"y","type":"quantitative","axis":{"orient":"right","values":[0.05,0.06,0.07,0.08,0.09,0.1,0.2,0.3,0.4,0.5,0.6,0.7,0.8,0.9,1,2,3,4,5,6,7,8,9,10],"tickSize":{"condition":{"test":"datum.value % 10 === 0 || abs(log(datum.value)/LN10 - round(log(datum.value)/LN10)) < 0.000001","value":-8},"value":-5},"labels":false,"title":null}}}},
  {"transform":[{"filter":"datum.p===4 && datum.r==='t' && isValid(datum.lo)"}],"mark":{"type":"rule","clip":true,"strokeWidth":1},
   "encoding":{"x":{"field":"x","type":"quantitative","axis":null},"y":{"field":"lo","type":"quantitative","axis":null},"y2":{"field":"hi"},"color":{"field":"s","type":"nominal","legend":null}}},
  {"transform":[{"filter":"datum.p===4 && datum.r==='t' && isValid(datum.lo)"}],"mark":{"type":"tick","orient":"horizontal","clip":true,"size":7,"thickness":1},
   "encoding":{"x":{"field":"x","type":"quantitative","axis":null},"y":{"field":"lo","type":"quantitative","axis":null},"color":{"field":"s","type":"nominal","legend":null}}},
  {"transform":[{"filter":"datum.p===4 && datum.r==='t' && isValid(datum.hi)"}],"mark":{"type":"tick","orient":"horizontal","clip":true,"size":7,"thickness":1},
   "encoding":{"x":{"field":"x","type":"quantitative","axis":null},"y":{"field":"hi","type":"quantitative","axis":null},"color":{"field":"s","type":"nominal","legend":null}}}
 ]},

{"width":247,"height":246,"data":{"name":"d"},
 "resolve":{"axis":{"x":"independent","y":"independent"}},
 "layer":[
  {"transform":[{"filter":"datum.p===1 && datum.r==='b' && isValid(datum.lo)"}],"mark":{"type":"rule","clip":true,"strokeWidth":1},
   "encoding":{"x":{"field":"x","type":"quantitative","scale":{"type":"log","domain":[0.0059,19.5],"nice":false},"axis":null},"y":{"field":"lo","type":"quantitative","scale":{"type":"linear","domain":[0,37.8],"nice":false,"zero":false},"axis":null},"y2":{"field":"hi"},"color":{"field":"s","type":"nominal","scale":{"domain":["4.0","6.1","11.0"],"range":["#1a1a1a","#ec1c24","#6dbe45"]},"legend":null}}},
  {"transform":[{"filter":"datum.p===1 && datum.r==='b' && isValid(datum.lo)"}],"mark":{"type":"tick","orient":"horizontal","clip":true,"size":7,"thickness":1},
   "encoding":{"x":{"field":"x","type":"quantitative","axis":null},"y":{"field":"lo","type":"quantitative","axis":null},"color":{"field":"s","type":"nominal","legend":null}}},
  {"transform":[{"filter":"datum.p===1 && datum.r==='b' && isValid(datum.hi)"}],"mark":{"type":"tick","orient":"horizontal","clip":true,"size":7,"thickness":1},
   "encoding":{"x":{"field":"x","type":"quantitative","axis":null},"y":{"field":"hi","type":"quantitative","axis":null},"color":{"field":"s","type":"nominal","legend":null}}},
  {"transform":[{"filter":"datum.p===1 && datum.r==='b'"}],"mark":{"type":"point","filled":true,"opacity":1,"size":64},
   "encoding":{"x":{"field":"x","type":"quantitative","axis":{"orient":"bottom","values":[0.006,0.007,0.008,0.009,0.01,0.02,0.03,0.04,0.05,0.06,0.07,0.08,0.09,0.1,0.2,0.3,0.4,0.5,0.6,0.7,0.8,0.9,1,2,3,4,5,6,7,8,9,10],"tickSize":{"condition":{"test":"datum.value % 10 === 0 || abs(log(datum.value)/LN10 - round(log(datum.value)/LN10)) < 0.000001","value":-8},"value":-5},"labelExpr":"abs(log(datum.value)/LN10 - round(log(datum.value)/LN10)) < 0.000001 ? format(datum.value, '~g') : ''","labelPadding":14,"title":null}},
    "y":{"field":"y","type":"quantitative","axis":{"orient":"left","values":[0,2,4,6,8,10,12,14,16,18,20,22,24,26,28,30,32,34,36],"tickSize":{"condition":{"test":"datum.value % 10 === 0","value":-8},"value":-5},"labelExpr":"datum.value % 10 === 0 ? format(datum.value, 'd') : ''","labelPadding":14,"title":["Film thickness,","d (nm)"],"titlePadding":10,"titleLineHeight":30}},
    "color":{"field":"s","type":"nominal","legend":null},
    "shape":{"field":"s","type":"nominal","scale":{"domain":["4.0","6.1","11.0"],"range":["M-0.8,-0.8H0.8V0.8H-0.8Z","circle","M-1.15,0L0,-1.15L1.15,0L0,1.15Z"]},"legend":null}}},
  {"transform":[{"filter":"datum.p===1 && datum.r==='b'"}],"mark":{"type":"point","opacity":0},
   "encoding":{"x":{"field":"x","type":"quantitative","axis":{"orient":"top","values":[0.006,0.007,0.008,0.009,0.01,0.02,0.03,0.04,0.05,0.06,0.07,0.08,0.09,0.1,0.2,0.3,0.4,0.5,0.6,0.7,0.8,0.9,1,2,3,4,5,6,7,8,9,10],"tickSize":{"condition":{"test":"datum.value % 10 === 0 || abs(log(datum.value)/LN10 - round(log(datum.value)/LN10)) < 0.000001","value":-8},"value":-5},"labels":false,"title":null}},
    "y":{"field":"y","type":"quantitative","axis":{"orient":"right","values":[0,2,4,6,8,10,12,14,16,18,20,22,24,26,28,30,32,34,36],"tickSize":{"condition":{"test":"datum.value % 10 === 0","value":-8},"value":-5},"labels":false,"title":null}}}}
 ]},

{"width":247,"height":246,"data":{"name":"d"},
 "resolve":{"axis":{"x":"independent","y":"independent"}},
 "layer":[
  {"transform":[{"filter":"datum.p===2 && datum.r==='b' && isValid(datum.lo)"}],"mark":{"type":"rule","clip":true,"strokeWidth":1},
   "encoding":{"x":{"field":"x","type":"quantitative","scale":{"type":"log","domain":[0.0059,19.5],"nice":false},"axis":null},"y":{"field":"lo","type":"quantitative","scale":{"type":"linear","domain":[0,37.8],"nice":false,"zero":false},"axis":null},"y2":{"field":"hi"},"color":{"field":"s","type":"nominal","scale":{"domain":["5.4","6.6","10.3"],"range":["#1a1a1a","#ec1c24","#6dbe45"]},"legend":null}}},
  {"transform":[{"filter":"datum.p===2 && datum.r==='b' && isValid(datum.lo)"}],"mark":{"type":"tick","orient":"horizontal","clip":true,"size":7,"thickness":1},
   "encoding":{"x":{"field":"x","type":"quantitative","axis":null},"y":{"field":"lo","type":"quantitative","axis":null},"color":{"field":"s","type":"nominal","legend":null}}},
  {"transform":[{"filter":"datum.p===2 && datum.r==='b' && isValid(datum.hi)"}],"mark":{"type":"tick","orient":"horizontal","clip":true,"size":7,"thickness":1},
   "encoding":{"x":{"field":"x","type":"quantitative","axis":null},"y":{"field":"hi","type":"quantitative","axis":null},"color":{"field":"s","type":"nominal","legend":null}}},
  {"transform":[{"filter":"datum.p===2 && datum.r==='b'"}],"mark":{"type":"point","filled":true,"opacity":1,"size":64},
   "encoding":{"x":{"field":"x","type":"quantitative","axis":{"orient":"bottom","values":[0.006,0.007,0.008,0.009,0.01,0.02,0.03,0.04,0.05,0.06,0.07,0.08,0.09,0.1,0.2,0.3,0.4,0.5,0.6,0.7,0.8,0.9,1,2,3,4,5,6,7,8,9,10],"tickSize":{"condition":{"test":"datum.value % 10 === 0 || abs(log(datum.value)/LN10 - round(log(datum.value)/LN10)) < 0.000001","value":-8},"value":-5},"labelExpr":"abs(log(datum.value)/LN10 - round(log(datum.value)/LN10)) < 0.000001 ? format(datum.value, '~g') : ''","labelPadding":14,"title":null}},
    "y":{"field":"y","type":"quantitative","axis":{"orient":"left","values":[0,2,4,6,8,10,12,14,16,18,20,22,24,26,28,30,32,34,36],"tickSize":{"condition":{"test":"datum.value % 10 === 0","value":-8},"value":-5},"labels":false,"title":null}},
    "color":{"field":"s","type":"nominal","legend":null},
    "shape":{"field":"s","type":"nominal","scale":{"domain":["5.4","6.6","10.3"],"range":["M-0.8,-0.8H0.8V0.8H-0.8Z","circle","M-1.15,0L0,-1.15L1.15,0L0,1.15Z"]},"legend":null}}},
  {"transform":[{"filter":"datum.p===2 && datum.r==='b'"}],"mark":{"type":"point","opacity":0},
   "encoding":{"x":{"field":"x","type":"quantitative","axis":{"orient":"top","values":[0.006,0.007,0.008,0.009,0.01,0.02,0.03,0.04,0.05,0.06,0.07,0.08,0.09,0.1,0.2,0.3,0.4,0.5,0.6,0.7,0.8,0.9,1,2,3,4,5,6,7,8,9,10],"tickSize":{"condition":{"test":"datum.value % 10 === 0 || abs(log(datum.value)/LN10 - round(log(datum.value)/LN10)) < 0.000001","value":-8},"value":-5},"labels":false,"title":null}},
    "y":{"field":"y","type":"quantitative","axis":{"orient":"right","values":[0,2,4,6,8,10,12,14,16,18,20,22,24,26,28,30,32,34,36],"tickSize":{"condition":{"test":"datum.value % 10 === 0","value":-8},"value":-5},"labels":false,"title":null}}}}
 ]},

{"width":247,"height":246,"data":{"name":"d"},
 "resolve":{"axis":{"x":"independent","y":"independent"}},
 "layer":[
  {"transform":[{"filter":"datum.p===3 && datum.r==='b' && isValid(datum.lo)"}],"mark":{"type":"rule","clip":true,"strokeWidth":1},
   "encoding":{"x":{"field":"x","type":"quantitative","scale":{"type":"log","domain":[0.0059,19.5],"nice":false},"axis":null},"y":{"field":"lo","type":"quantitative","scale":{"type":"linear","domain":[0,37.8],"nice":false,"zero":false},"axis":null},"y2":{"field":"hi"},"color":{"field":"s","type":"nominal","scale":{"domain":["4.9","8.3"],"range":["#1a1a1a","#6dbe45"]},"legend":null}}},
  {"transform":[{"filter":"datum.p===3 && datum.r==='b' && isValid(datum.lo)"}],"mark":{"type":"tick","orient":"horizontal","clip":true,"size":7,"thickness":1},
   "encoding":{"x":{"field":"x","type":"quantitative","axis":null},"y":{"field":"lo","type":"quantitative","axis":null},"color":{"field":"s","type":"nominal","legend":null}}},
  {"transform":[{"filter":"datum.p===3 && datum.r==='b' && isValid(datum.hi)"}],"mark":{"type":"tick","orient":"horizontal","clip":true,"size":7,"thickness":1},
   "encoding":{"x":{"field":"x","type":"quantitative","axis":null},"y":{"field":"hi","type":"quantitative","axis":null},"color":{"field":"s","type":"nominal","legend":null}}},
  {"transform":[{"filter":"datum.p===3 && datum.r==='b'"}],"mark":{"type":"point","filled":true,"opacity":1,"size":64},
   "encoding":{"x":{"field":"x","type":"quantitative","axis":{"orient":"bottom","values":[0.006,0.007,0.008,0.009,0.01,0.02,0.03,0.04,0.05,0.06,0.07,0.08,0.09,0.1,0.2,0.3,0.4,0.5,0.6,0.7,0.8,0.9,1,2,3,4,5,6,7,8,9,10],"tickSize":{"condition":{"test":"datum.value % 10 === 0 || abs(log(datum.value)/LN10 - round(log(datum.value)/LN10)) < 0.000001","value":-8},"value":-5},"labelExpr":"abs(log(datum.value)/LN10 - round(log(datum.value)/LN10)) < 0.000001 ? format(datum.value, '~g') : ''","labelPadding":14,"title":null}},
    "y":{"field":"y","type":"quantitative","axis":{"orient":"left","values":[0,2,4,6,8,10,12,14,16,18,20,22,24,26,28,30,32,34,36],"tickSize":{"condition":{"test":"datum.value % 10 === 0","value":-8},"value":-5},"labels":false,"title":null}},
    "color":{"field":"s","type":"nominal","legend":null},
    "shape":{"field":"s","type":"nominal","scale":{"domain":["4.9","8.3"],"range":["M-0.8,-0.8H0.8V0.8H-0.8Z","M-1.15,0L0,-1.15L1.15,0L0,1.15Z"]},"legend":null}}},
  {"transform":[{"filter":"datum.p===3 && datum.r==='b'"}],"mark":{"type":"point","opacity":0},
   "encoding":{"x":{"field":"x","type":"quantitative","axis":{"orient":"top","values":[0.006,0.007,0.008,0.009,0.01,0.02,0.03,0.04,0.05,0.06,0.07,0.08,0.09,0.1,0.2,0.3,0.4,0.5,0.6,0.7,0.8,0.9,1,2,3,4,5,6,7,8,9,10],"tickSize":{"condition":{"test":"datum.value % 10 === 0 || abs(log(datum.value)/LN10 - round(log(datum.value)/LN10)) < 0.000001","value":-8},"value":-5},"labels":false,"title":null}},
    "y":{"field":"y","type":"quantitative","axis":{"orient":"right","values":[0,2,4,6,8,10,12,14,16,18,20,22,24,26,28,30,32,34,36],"tickSize":{"condition":{"test":"datum.value % 10 === 0","value":-8},"value":-5},"labels":false,"title":null}}}}
 ]},

{"width":247,"height":246,"data":{"name":"d"},
 "resolve":{"axis":{"x":"independent","y":"independent"}},
 "layer":[
  {"transform":[{"filter":"datum.p===4 && datum.r==='b' && isValid(datum.lo)"}],"mark":{"type":"rule","clip":true,"strokeWidth":1},
   "encoding":{"x":{"field":"x","type":"quantitative","scale":{"type":"log","domain":[0.0059,19.5],"nice":false},"axis":null},"y":{"field":"lo","type":"quantitative","scale":{"type":"linear","domain":[0,37.8],"nice":false,"zero":false},"axis":null},"y2":{"field":"hi"},"color":{"field":"s","type":"nominal","scale":{"domain":["5.1","10.0"],"range":["#1a1a1a","#6dbe45"]},"legend":null}}},
  {"transform":[{"filter":"datum.p===4 && datum.r==='b' && isValid(datum.lo)"}],"mark":{"type":"tick","orient":"horizontal","clip":true,"size":7,"thickness":1},
   "encoding":{"x":{"field":"x","type":"quantitative","axis":null},"y":{"field":"lo","type":"quantitative","axis":null},"color":{"field":"s","type":"nominal","legend":null}}},
  {"transform":[{"filter":"datum.p===4 && datum.r==='b' && isValid(datum.hi)"}],"mark":{"type":"tick","orient":"horizontal","clip":true,"size":7,"thickness":1},
   "encoding":{"x":{"field":"x","type":"quantitative","axis":null},"y":{"field":"hi","type":"quantitative","axis":null},"color":{"field":"s","type":"nominal","legend":null}}},
  {"transform":[{"filter":"datum.p===4 && datum.r==='b'"}],"mark":{"type":"point","filled":true,"opacity":1,"size":64},
   "encoding":{"x":{"field":"x","type":"quantitative","axis":{"orient":"bottom","values":[0.006,0.007,0.008,0.009,0.01,0.02,0.03,0.04,0.05,0.06,0.07,0.08,0.09,0.1,0.2,0.3,0.4,0.5,0.6,0.7,0.8,0.9,1,2,3,4,5,6,7,8,9,10],"tickSize":{"condition":{"test":"datum.value % 10 === 0 || abs(log(datum.value)/LN10 - round(log(datum.value)/LN10)) < 0.000001","value":-8},"value":-5},"labelExpr":"abs(log(datum.value)/LN10 - round(log(datum.value)/LN10)) < 0.000001 ? format(datum.value, '~g') : ''","labelPadding":14,"title":null}},
    "y":{"field":"y","type":"quantitative","axis":{"orient":"left","values":[0,2,4,6,8,10,12,14,16,18,20,22,24,26,28,30,32,34,36],"tickSize":{"condition":{"test":"datum.value % 10 === 0","value":-8},"value":-5},"labels":false,"title":null}},
    "color":{"field":"s","type":"nominal","legend":null},
    "shape":{"field":"s","type":"nominal","scale":{"domain":["5.1","10.0"],"range":["M-0.8,-0.8H0.8V0.8H-0.8Z","M-1.15,0L0,-1.15L1.15,0L0,1.15Z"]},"legend":null}}},
  {"transform":[{"filter":"datum.p===4 && datum.r==='b'"}],"mark":{"type":"point","opacity":0},
   "encoding":{"x":{"field":"x","type":"quantitative","axis":{"orient":"top","values":[0.006,0.007,0.008,0.009,0.01,0.02,0.03,0.04,0.05,0.06,0.07,0.08,0.09,0.1,0.2,0.3,0.4,0.5,0.6,0.7,0.8,0.9,1,2,3,4,5,6,7,8,9,10],"tickSize":{"condition":{"test":"datum.value % 10 === 0 || abs(log(datum.value)/LN10 - round(log(datum.value)/LN10)) < 0.000001","value":-8},"value":-5},"labels":false,"title":null}},
    "y":{"field":"y","type":"quantitative","axis":{"orient":"right","values":[0,2,4,6,8,10,12,14,16,18,20,22,24,26,28,30,32,34,36],"tickSize":{"condition":{"test":"datum.value % 10 === 0","value":-8},"value":-5},"labels":false,"title":null}}}}
 ]},

{"width":247,"height":60,"view":{"stroke":null},"data":{"values":[{}]},
 "layer":[
  {"mark":{"type":"text","text":"NTR in solution, c","align":"right","baseline":"middle","fontSize":23,"fontWeight":"bold","color":"#111"},
   "encoding":{"x":{"datum":2.3765,"type":"quantitative","scale":{"domain":[0,1]},"axis":null},"y":{"datum":0.317,"type":"quantitative","scale":{"domain":[0,1]},"axis":null}}},
  {"mark":{"type":"text","text":"NTR","align":"left","baseline":"middle","fontSize":13.5,"fontWeight":"bold","color":"#111"},
   "encoding":{"x":{"datum":2.3806,"type":"quantitative","axis":null},"y":{"datum":0.217,"type":"quantitative","axis":null}}},
  {"mark":{"type":"text","text":"(μM)","align":"left","baseline":"middle","fontSize":23,"fontWeight":"bold","color":"#111"},
   "encoding":{"x":{"datum":2.5101,"type":"quantitative","axis":null},"y":{"datum":0.317,"type":"quantitative","axis":null}}}
 ]}
]
}
